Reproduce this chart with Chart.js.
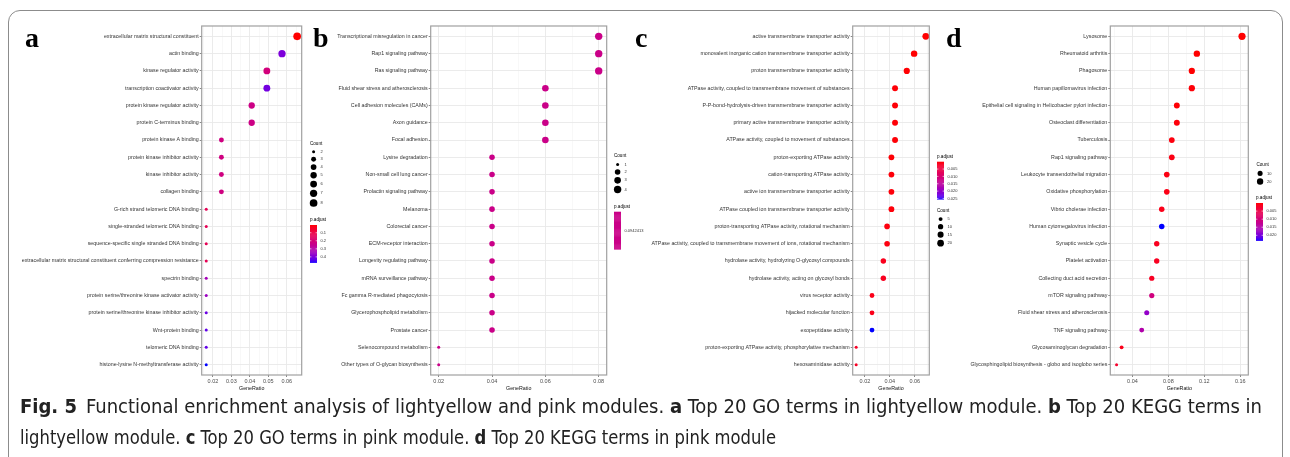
<!DOCTYPE html>
<html><head><meta charset="utf-8">
<script src="https://cdn.jsdelivr.net/npm/chart.js@4.4.1/dist/chart.umd.min.js"></script>
<style>
html,body{margin:0;padding:0;background:#fff}
body{width:1290px;height:457px;overflow:hidden;position:relative}
canvas{position:absolute;left:0;top:0}
.frame{position:absolute;left:8px;top:10px;width:1275px;height:480px;border:1.3px solid #8c8c8c;border-radius:12px;box-sizing:border-box;z-index:5}
.letter{position:absolute;font-family:"Liberation Serif","DejaVu Serif",serif;font-weight:bold;font-size:28px;line-height:28px;color:#000;z-index:6}
.cap{position:absolute;left:20px;font-family:"Liberation Sans Narrow","DejaVu Sans Condensed",sans-serif;font-size:19px;line-height:20px;color:#222;white-space:nowrap;transform-origin:0 0;z-index:6}
.cap b{font-weight:bold}
</style></head>
<body>
<div class="frame"></div>
<div class="letter" style="left:25px;top:24px">a</div>
<div class="letter" style="left:313px;top:24px">b</div>
<div class="letter" style="left:635px;top:24px">c</div>
<div class="letter" style="left:946px;top:24px">d</div>
<div class="cap" data-w="1242" style="top:396px"><b>Fig. 5</b>&ensp;Functional enrichment analysis of lightyellow and pink modules. <b>a</b> Top 20 GO terms in lightyellow module. <b>b</b> Top 20 KEGG terms in</div>
<div class="cap" data-w="756" style="top:427px">lightyellow module. <b>c</b> Top 20 GO terms in pink module. <b>d</b> Top 20 KEGG terms in pink module</div>
<script>
// ---------------- DATA ----------------
const termsA = ["extracellular matrix structural constituent","actin binding","kinase regulator activity","transcription coactivator activity","protein kinase regulator activity","protein C-terminus binding","protein kinase A binding","protein kinase inhibitor activity","kinase inhibitor activity","collagen binding","G-rich strand telomeric DNA binding","single-stranded telomeric DNA binding","sequence-specific single stranded DNA binding","extracellular matrix structural constituent conferring compression resistance","spectrin binding","protein serine/threonine kinase activator activity","protein serine/threonine kinase inhibitor activity","Wnt-protein binding","telomeric DNA binding","histone-lysine N-methyltransferase activity"];
const ratioA = [0.0656,0.0574,0.0492,0.0492,0.0410,0.0410,0.0246,0.0246,0.0246,0.0246,0.0164,0.0164,0.0164,0.0164,0.0164,0.0164,0.0164,0.0164,0.0164,0.0164];
const countA = [8,7,6,6,5,5,3,3,3,3,2,2,2,2,2,2,2,2,2,2];
const padjA = [0.004,0.40,0.21,0.41,0.23,0.23,0.22,0.22,0.22,0.22,0.13,0.13,0.13,0.13,0.33,0.35,0.42,0.43,0.43,0.47];
const xTicksA = [0.02,0.03,0.04,0.05,0.06];
const xMinorA = [0.015,0.025,0.035,0.045,0.055,0.065];
const countBreaksA = [2,3,4,5,6,7,8];
const padjBreaksA = [0.1,0.2,0.3,0.4];

const termsB = ["Transcriptional misregulation in cancer","Rap1 signaling pathway","Ras signaling pathway","Fluid shear stress and atherosclerosis","Cell adhesion molecules (CAMs)","Axon guidance","Focal adhesion","Lysine degradation","Non-small cell lung cancer","Prolactin signaling pathway","Melanoma","Colorectal cancer","ECM-receptor interaction","Longevity regulating pathway","mRNA surveillance pathway","Fc gamma R-mediated phagocytosis","Glycerophospholipid metabolism","Prostate cancer","Selenocompound metabolism","Other types of O-glycan biosynthesis"];
const ratioB = [0.08,0.08,0.08,0.06,0.06,0.06,0.06,0.04,0.04,0.04,0.04,0.04,0.04,0.04,0.04,0.04,0.04,0.04,0.02,0.02];
const countB = [4,4,4,3,3,3,3,2,2,2,2,2,2,2,2,2,2,2,1,1];
const padjB = [0.0942413,0.0942413,0.0942413,0.0942413,0.0942413,0.0942413,0.0942413,0.0942413,0.0942413,0.0942413,0.0942413,0.0942413,0.0942413,0.0942413,0.0942413,0.0942413,0.0942413,0.0942413,0.0942413,0.0942413];
const xTicksB = [0.02,0.04,0.06,0.08];
const xMinorB = [0.03,0.05,0.07];
const countBreaksB = [1,2,3,4];
const padjBreaksB = ["0.0942413"];

const termsC = ["active transmembrane transporter activity","monovalent inorganic cation transmembrane transporter activity","proton transmembrane transporter activity","ATPase activity, coupled to transmembrane movement of substances","P-P-bond-hydrolysis-driven transmembrane transporter activity","primary active transmembrane transporter activity","ATPase activity, coupled to movement of substances","proton-exporting ATPase activity","cation-transporting ATPase activity","active ion transmembrane transporter activity","ATPase coupled ion transmembrane transporter activity","proton-transporting ATPase activity, rotational mechanism","ATPase activity, coupled to transmembrane movement of ions, rotational mechanism","hydrolase activity, hydrolyzing O-glycosyl compounds","hydrolase activity, acting on glycosyl bonds","virus receptor activity","hijacked molecular function","exopeptidase activity","proton-exporting ATPase activity, phosphorylative mechanism","hexosaminidase activity"];
const ratioC = [0.0689,0.0595,0.0536,0.0442,0.0442,0.0442,0.0442,0.0413,0.0413,0.0413,0.0413,0.0378,0.0378,0.0348,0.0348,0.0257,0.0257,0.0257,0.0130,0.0130];
const countC = [21,18,16,14,14,14,14,13,13,13,13,12,12,11,11,8,8,8,4,4];
const padjC = [0.0000012,0.000025,0.00011,0.0003,0.0003,0.0003,0.0003,0.0002,0.00041,0.00041,0.00041,0.0006,0.0006,0.0015,0.0017,0.0012,0.0012,0.0255,0.0021,0.0021];
const xTicksC = [0.02,0.04,0.06];
const xMinorC = [0.03,0.05,0.07];
const countBreaksC = [5,10,15,20];
const padjBreaksC = [0.005,0.010,0.015,0.020,0.025];

const termsD = ["Lysosome","Rheumatoid arthritis","Phagosome","Human papillomavirus infection","Epithelial cell signaling in Helicobacter pylori infection","Osteoclast differentiation","Tuberculosis","Rap1 signaling pathway","Leukocyte transendothelial migration","Oxidative phosphorylation","Vibrio cholerae infection","Human cytomegalovirus infection","Synaptic vesicle cycle","Platelet activation","Collecting duct acid secretion","mTOR signaling pathway","Fluid shear stress and atherosclerosis","TNF signaling pathway","Glycosaminoglycan degradation","Glycosphingolipid biosynthesis - globo and isoglobo series"];
const ratioD = [0.1620,0.1117,0.1061,0.1061,0.0894,0.0894,0.0838,0.0838,0.0782,0.0782,0.0726,0.0726,0.0670,0.0670,0.0615,0.0615,0.0559,0.0503,0.0279,0.0223];
const countD = [29,20,19,19,16,16,15,15,14,14,13,13,12,12,11,11,10,9,5,4];
const padjD = [0.000000002,0.00001,0.00004,0.0003,0.0002,0.0004,0.0005,0.0008,0.0007,0.0009,0.0011,0.0232,0.0015,0.0016,0.0018,0.0105,0.0180,0.0150,0.0012,0.0025];
const xTicksD = [0.04,0.08,0.12,0.16];
const xMinorD = [0.02,0.06,0.10,0.14];
const countBreaksD = [10,20];
const padjBreaksD = [0.005,0.010,0.015,0.020];

// ---------------- COLOUR (CIELAB red -> blue) ----------------
function s2l(c){c/=255;return c<=0.04045?c/12.92:Math.pow((c+0.055)/1.055,2.4);}
function l2s(c){c=c<=0.0031308?12.92*c:1.055*Math.pow(c,1/2.4)-0.055;return Math.round(Math.max(0,Math.min(1,c))*255);}
function rgb2lab(r,g,b){const R=s2l(r),G=s2l(g),B=s2l(b);
  const X=(0.4124*R+0.3576*G+0.1805*B)/0.95047,Y=0.2126*R+0.7152*G+0.0722*B,Z=(0.0193*R+0.1192*G+0.9505*B)/1.08883;
  const f=t=>t>0.008856?Math.cbrt(t):(7.787*t+16/116);
  return [116*f(Y)-16,500*(f(X)-f(Y)),200*(f(Y)-f(Z))];}
function lab2rgb(L,a,b){const fy=(L+16)/116,fx=fy+a/500,fz=fy-b/200;
  const fi=t=>t*t*t>0.008856?t*t*t:(t-16/116)/7.787;
  const X=fi(fx)*0.95047,Y=fi(fy),Z=fi(fz)*1.08883;
  const R=3.2406*X-1.5372*Y-0.4986*Z,G=-0.9689*X+1.8758*Y+0.0415*Z,B=0.0557*X-0.2040*Y+1.0570*Z;
  return `rgb(${l2s(R)},${l2s(G)},${l2s(B)})`;}
const LOW=rgb2lab(255,0,0), HIGH=rgb2lab(0,0,255);
function ramp(t){t=Math.max(0,Math.min(1,t));return lab2rgb(LOW[0]+(HIGH[0]-LOW[0])*t,LOW[1]+(HIGH[1]-LOW[1])*t,LOW[2]+(HIGH[2]-LOW[2])*t);}

const F='"Liberation Sans", Arial, sans-serif';

const panels = [
 {terms:termsA,ratio:ratioA,count:countA,padj:padjA,xt:xTicksA,xm:xMinorA,cb:countBreaksA,pb:padjBreaksA,left:201.7,right:301.7,rmax:3.85,
  countLeg:{x:310,y:143.3},colLeg:{x:310,y:220}},
 {terms:termsB,ratio:ratioB,count:countB,padj:padjB,xt:xTicksB,xm:xMinorB,cb:countBreaksB,pb:padjBreaksB,left:430.7,right:606.7,rmax:3.7,
  countLeg:{x:614,y:156},colLeg:{x:614,y:206.7}},
 {terms:termsC,ratio:ratioC,count:countC,padj:padjC,xt:xTicksC,xm:xMinorC,cb:countBreaksC,pb:padjBreaksC,left:852.7,right:929.3,rmax:3.4,
  countLeg:{x:937,y:210.7},colLeg:{x:937,y:156.7}},
 {terms:termsD,ratio:ratioD,count:countD,padj:padjD,xt:xTicksD,xm:xMinorD,cb:countBreaksD,pb:padjBreaksD,left:1110.3,right:1248.3,rmax:3.6,
  countLeg:{x:1256.5,y:165},colLeg:{x:1256,y:198}}
];

const PLOT_TOP=26, PLOT_BOTTOM=375, XH=20;

function makePanel(p){
  const cv=document.createElement('canvas');cv.width=1290;cv.height=457;document.body.appendChild(cv);
  const xmin=Math.min(...p.ratio),xmax=Math.max(...p.ratio),ex=(xmax-xmin)*0.05;
  const cmin=Math.min(...p.count),cmax=Math.max(...p.count);
  const pmin=Math.min(...p.padj),pmax=Math.max(...p.padj);
  const rad=c=>1.5+(p.rmax-1.5)*Math.sqrt(Math.max(0,(c-cmin)/(cmax-cmin)));
  const col=v=>ramp(pmax===pmin?0.5:(v-pmin)/(pmax-pmin));
  const n=p.terms.length;
  const allX=[...p.xt,...p.xm].sort((a,b)=>a-b);
  const isMajor=v=>p.xt.some(t=>Math.abs(t-v)<1e-9);

  const legendPlugin={id:'lg',afterDraw(chart){
    const ctx=chart.ctx,a=chart.chartArea;
    ctx.save();
    ctx.strokeStyle='#a0a0a0';ctx.lineWidth=1.2;ctx.strokeRect(a.left,a.top,a.right-a.left,a.bottom-a.top);
    // count legend
    let L=p.countLeg;
    ctx.textBaseline='middle';ctx.textAlign='left';
    ctx.fillStyle='#000';ctx.font=`4.6px ${F}`;ctx.fillText('Count',L.x,L.y);
    let cy=L.y+8.4,prev=null;
    p.cb.forEach((b,i)=>{const r=rad(b);const h=Math.max(7.6,2*r+2.2);
      if(i>0)cy+=(prev+h)/2;prev=h;
      ctx.beginPath();ctx.arc(L.x+3.6,cy,r,0,Math.PI*2);ctx.fillStyle='#000';ctx.fill();
      ctx.fillStyle='#333';ctx.font=`4px ${F}`;ctx.fillText(String(b),L.x+10.5,cy);});
    // colour bar
    L=p.colLeg;
    ctx.fillStyle='#000';ctx.font=`4.6px ${F}`;ctx.fillText('p.adjust',L.x,L.y);
    const top=L.y+5,H=37.5,W=7,N=40;
    for(let k=0;k<N;k++){ctx.fillStyle=pmax===pmin?ramp(0.5):ramp((k+0.5)/N);ctx.fillRect(L.x,top+k*H/N,W,H/N+0.4);}
    ctx.font=`4px ${F}`;
    p.pb.forEach(b=>{let yy;
      if(typeof b==='string'){yy=top+H/2;}else{yy=top+(b-pmin)/(pmax-pmin)*H;
        ctx.strokeStyle='#fff';ctx.lineWidth=0.6;ctx.beginPath();ctx.moveTo(L.x,yy);ctx.lineTo(L.x+1.4,yy);ctx.moveTo(L.x+W-1.4,yy);ctx.lineTo(L.x+W,yy);ctx.stroke();}
      ctx.fillStyle='#333';ctx.fillText(typeof b==='string'?b:(b<0.01||p.pb.some(q=>String(q).length>4)?b.toFixed(3):String(b)),L.x+W+3.5,yy);});
    ctx.restore();
  }};

  new Chart(cv,{type:'scatter',
    data:{datasets:[{data:p.terms.map((t,i)=>({x:p.ratio[i],y:i})),
      pointRadius:p.count.map(rad),pointHoverRadius:p.count.map(rad),
      pointBackgroundColor:p.padj.map(col),pointBorderWidth:0,pointBorderColor:'rgba(0,0,0,0)'}]},
    options:{responsive:false,animation:false,events:[],devicePixelRatio:1,
      plugins:{legend:{display:false},tooltip:{enabled:false}},
      layout:{padding:{left:2,top:PLOT_TOP,right:1290-p.right,bottom:457-PLOT_BOTTOM-XH}},
      scales:{
        x:{type:'linear',min:xmin-ex,max:xmax+ex,
          afterBuildTicks:s=>{s.ticks=allX.map(v=>({value:v}));},
          afterFit:s=>{s.height=XH;},
          ticks:{autoSkip:false,maxRotation:0,minRotation:0,padding:1,font:{size:5.5,family:F},color:'#4d4d4d',
            callback:v=>isMajor(v)?v.toFixed(2):''},
          grid:{color:c=>isMajor(c.tick.value)?'#e9e9e9':'#f4f4f4',lineWidth:c=>isMajor(c.tick.value)?0.9:0.6,
            tickLength:2,tickColor:c=>isMajor(c.tick.value)?'#555':'rgba(0,0,0,0)',tickWidth:0.7},
          border:{display:false},
          title:{display:true,text:'GeneRatio',font:{size:5.3,family:F},color:'#111',padding:{top:0,bottom:3}}},
        y:{type:'linear',reverse:true,min:-0.6,max:n-0.4,
          afterBuildTicks:s=>{s.ticks=p.terms.map((_,i)=>({value:i}));},
          afterFit:s=>{s.width=p.left-2;},
          ticks:{autoSkip:false,padding:1,font:{size:5.3,family:F},color:'#333',callback:v=>p.terms[v]},
          grid:{color:'#e9e9e9',lineWidth:0.9,tickLength:2,tickColor:'#555',tickWidth:0.7},
          border:{display:false}}
      }},
    plugins:[legendPlugin]});
}
panels.forEach(makePanel);

document.querySelectorAll('.cap').forEach(el=>{const w=el.getBoundingClientRect().width;el.style.transform=`scaleX(${el.dataset.w/w})`;});
</script>
</body></html>
